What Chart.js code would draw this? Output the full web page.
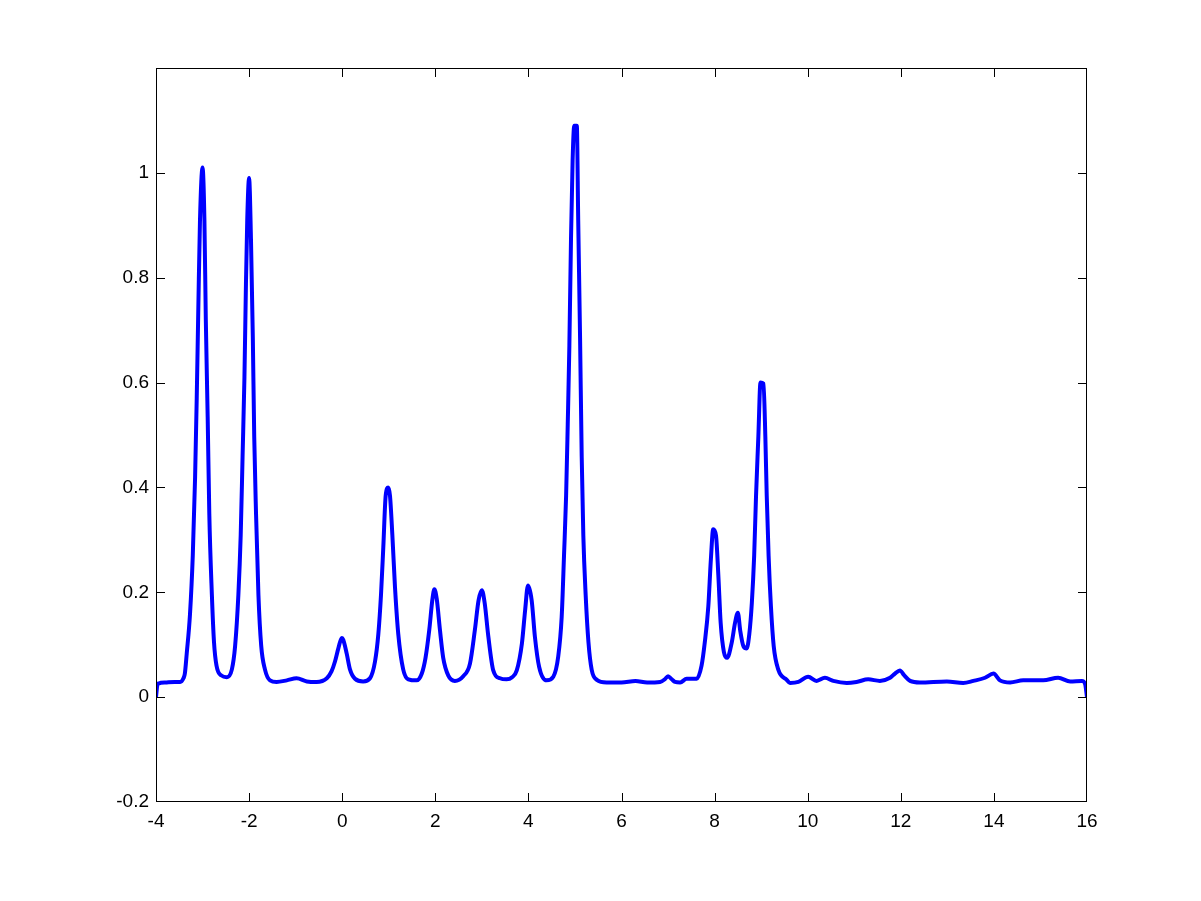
<!DOCTYPE html>
<html>
<head>
<meta charset="utf-8">
<script src="https://cdn.jsdelivr.net/npm/chart.js@4"></script>
<style>
  html, body { margin: 0; padding: 0; background: #fff; }
  canvas { display: block; }
</style>
</head>
<body>
<canvas id="myChart" width="1201" height="901"></canvas>
<script>
// values
const xValues = [
  -4.00, -3.97, -3.95, -3.77, -3.60, -3.48, -3.41, -3.38, -3.34, -3.27,
  -3.21, -3.16, -3.125, -3.09, -3.055, -3.00, -2.96, -2.93, -2.89, -2.855,
  -2.80, -2.754, -2.70, -2.59, -2.48, -2.37, -2.30, -2.23, -2.18, -2.14,
  -2.10, -2.07, -2.04, -2.00, -1.96, -1.92, -1.89, -1.85, -1.80, -1.74,
  -1.66, -1.55, -1.41, -1.19, -0.98, -0.76, -0.55, -0.33, -0.23, -0.155,
  -0.08, -0.01, 0.024, 0.097, 0.167, 0.275, 0.45, 0.597, 0.705, 0.776,
  0.834, 0.883, 0.934, 0.99, 1.027, 1.077, 1.134, 1.205, 1.31, 1.42,
  1.60, 1.71, 1.79, 1.87, 1.94, 1.98, 2.03, 2.10, 2.17, 2.28,
  2.42, 2.60, 2.745, 2.85, 2.93, 3.00, 3.06, 3.14, 3.245, 3.39,
  3.53, 3.65, 3.75, 3.86, 3.93, 3.99, 4.07, 4.14, 4.23, 4.39,
  4.535, 4.64, 4.715, 4.765, 4.81, 4.845, 4.88, 4.915, 4.95, 4.985,
  5.04, 5.07, 5.11, 5.145, 5.18, 5.23, 5.29, 5.36, 5.47, 5.68,
  6.00, 6.30, 6.55, 6.83, 6.93, 7.00, 7.08, 7.15, 7.26, 7.40,
  7.615, 7.72, 7.79, 7.865, 7.92, 7.97, 8.03, 8.08, 8.13, 8.20,
  8.27, 8.37, 8.44, 8.50, 8.55, 8.62, 8.69, 8.745, 8.80, 8.85,
  8.89, 8.94, 8.985, 9.05, 9.09, 9.12, 9.16, 9.21, 9.27, 9.37,
  9.55, 9.62, 9.80, 10.01, 10.19, 10.37, 10.55, 10.84, 11.05, 11.30,
  11.55, 11.77, 11.875, 11.98, 12.07, 12.20, 12.41, 12.99, 13.34, 13.56,
  13.81, 13.99, 14.13, 14.35, 14.63, 15.06, 15.38, 15.64, 15.89, 15.96,
  16.00
];
const yValues = [
  0.000, 0.024, 0.026, 0.028, 0.029, 0.029, 0.036, 0.045, 0.083, 0.158,
  0.270, 0.420, 0.570, 0.746, 0.910, 1.010, 0.910, 0.720, 0.535, 0.350,
  0.196, 0.105, 0.060, 0.041, 0.038, 0.053, 0.098, 0.196, 0.310, 0.460,
  0.610, 0.776, 0.910, 0.990, 0.874, 0.686, 0.497, 0.347, 0.196, 0.098,
  0.053, 0.032, 0.029, 0.032, 0.036, 0.030, 0.029, 0.036, 0.049, 0.068,
  0.094, 0.113, 0.109, 0.083, 0.053, 0.035, 0.030, 0.036, 0.068, 0.120,
  0.196, 0.286, 0.384, 0.400, 0.384, 0.310, 0.210, 0.120, 0.053, 0.034,
  0.032, 0.045, 0.075, 0.128, 0.188, 0.206, 0.188, 0.128, 0.075, 0.041,
  0.031, 0.040, 0.064, 0.128, 0.185, 0.204, 0.180, 0.115, 0.051, 0.036,
  0.034, 0.038, 0.051, 0.102, 0.166, 0.213, 0.185, 0.115, 0.058, 0.032,
  0.039, 0.077, 0.153, 0.270, 0.384, 0.520, 0.670, 0.873, 1.024, 1.090,
  1.090, 0.910, 0.685, 0.459, 0.308, 0.195, 0.105, 0.052, 0.033, 0.028,
  0.028, 0.031, 0.028, 0.029, 0.034, 0.040, 0.034, 0.029, 0.028, 0.035,
  0.035, 0.060, 0.105, 0.173, 0.263, 0.320, 0.308, 0.233, 0.142, 0.086,
  0.075, 0.105, 0.142, 0.161, 0.127, 0.097, 0.093, 0.120, 0.180, 0.270,
  0.384, 0.497, 0.600, 0.598, 0.497, 0.384, 0.270, 0.173, 0.097, 0.052,
  0.033, 0.027, 0.029, 0.039, 0.031, 0.037, 0.031, 0.027, 0.029, 0.034,
  0.031, 0.037, 0.045, 0.051, 0.042, 0.031, 0.028, 0.030, 0.027, 0.031,
  0.037, 0.045, 0.032, 0.028, 0.032, 0.032, 0.037, 0.030, 0.031, 0.025,
  0.000
];
const xTicks = [-4, -2, 0, 2, 4, 6, 8, 10, 12, 14, 16];
const yTicks = [-0.2, 0, 0.2, 0.4, 0.6, 0.8, 1];

const points = xValues.map((x, i) => ({ x: x, y: yValues[i] }));

// box around the plot with tick marks pointing inward on all four sides
const boxTicks = {
  id: "boxTicks",
  afterDraw(chart) {
    const { ctx, chartArea: a, scales } = chart;
    ctx.save();
    ctx.strokeStyle = "#000";
    ctx.lineWidth = 1;
    ctx.beginPath();
    ctx.rect(a.left + 0.5, a.top + 0.5, a.right - a.left - 1, a.bottom - a.top - 1);
    xTicks.forEach((v) => {
      const px = Math.min(Math.round(scales.x.getPixelForValue(v)), a.right - 1) + 0.5;
      ctx.moveTo(px, a.bottom);
      ctx.lineTo(px, a.bottom - 9);
      ctx.moveTo(px, a.top);
      ctx.lineTo(px, a.top + 9);
    });
    yTicks.forEach((v) => {
      const py = Math.min(Math.round(scales.y.getPixelForValue(v)), a.bottom - 1) + 0.5;
      ctx.moveTo(a.left, py);
      ctx.lineTo(a.left + 9, py);
      ctx.moveTo(a.right, py);
      ctx.lineTo(a.right - 9, py);
    });
    ctx.stroke();
    ctx.restore();
  },
};

const ctx = document.getElementById("myChart");
Chart.defaults.font.family = "'Liberation Sans', Arial, sans-serif";
Chart.defaults.font.size = 19;
Chart.defaults.color = "#000";

new Chart(ctx, {
  type: "scatter",
  data: {
    datasets: [
      {
        data: points,
        showLine: true,
        borderColor: "#0000ff",
        borderWidth: 4,
        pointRadius: 0,
        cubicInterpolationMode: "monotone",
      },
    ],
  },
  options: {
    responsive: false,
    animation: false,
    layout: { padding: { top: 68, right: 114, left: 0, bottom: 0 } },
    plugins: {
      legend: { display: false },
      tooltip: { enabled: false },
    },
    scales: {
      x: {
        type: "linear",
        min: -4,
        max: 16,
        grid: { display: false, drawTicks: false },
        border: { display: false },
        afterBuildTicks: (s) => { s.ticks = xTicks.map((v) => ({ value: v })); },
        afterFit: (s) => { s.height = 99; },
        ticks: {
          padding: 8,
          callback: (v) => String(v),
        },
      },
      y: {
        type: "linear",
        min: -0.2,
        max: 1.2,
        grid: { display: false, drawTicks: false },
        border: { display: false },
        afterBuildTicks: (s) => { s.ticks = yTicks.map((v) => ({ value: v })); },
        afterFit: (s) => { s.width = 156; },
        ticks: {
          padding: 7,
          callback: (v) => String(Number(v.toFixed(1))),
        },
      },
    },
  },
  plugins: [boxTicks],
});
</script>
</body>
</html>
